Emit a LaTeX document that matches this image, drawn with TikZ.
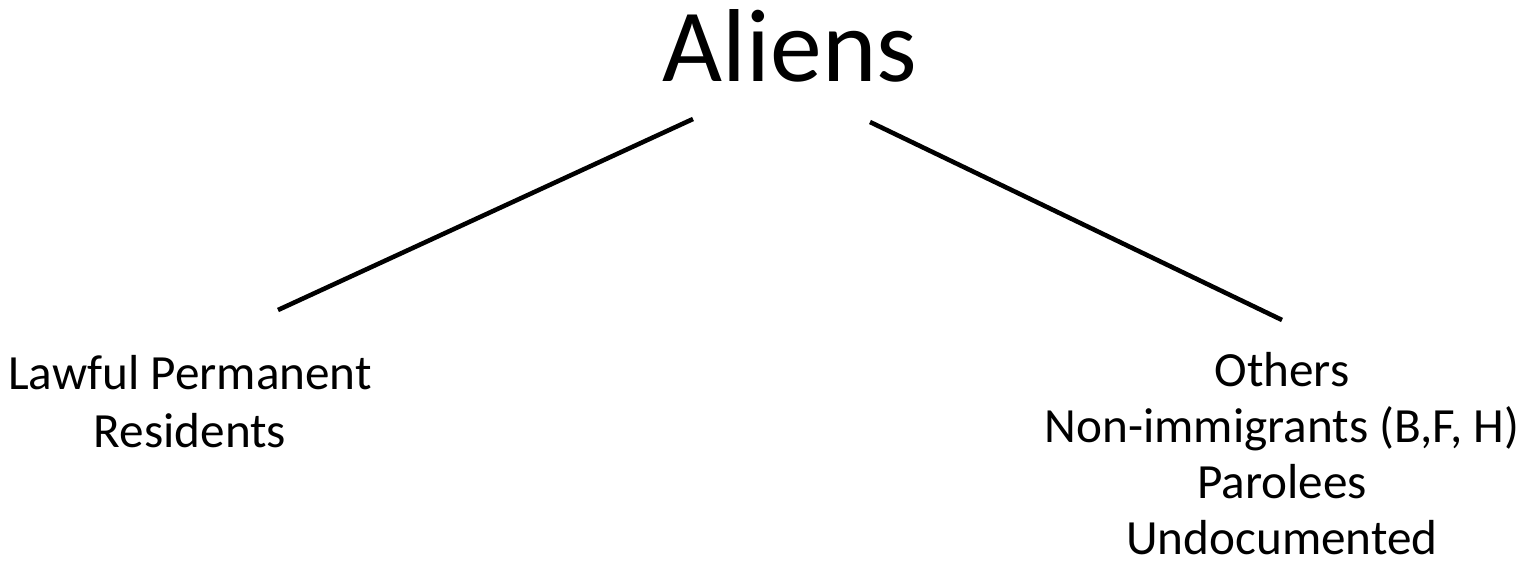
\documentclass[tikz,border=0pt]{standalone}
\usepackage{fontspec}
\setmainfont{Carlito}
\usetikzlibrary{positioning}

\begin{document}
\begin{tikzpicture}[
x=0.02cm, y=-0.02cm,
titlenode/.style={inner sep=0pt, anchor=base, font=\fontsize{59}{71}\selectfont},
groupnode/.style={inner sep=0pt, anchor=base, align=center, font=\fontsize{28}{32.8}\selectfont},
branch/.style={line width=2.6pt, black},
]
\useasboundingbox (0,0) rectangle (1524,564);

\node[titlenode]        (Aliens)                 at (790,82)   {Aliens};
\node[groupnode]        (Residents)              at (190,447)  {Lawful Permanent\\Residents};
\node[groupnode, font=\fontsize{28}{31.8}\selectfont] (Others) at (1282,554) {Others\\Non-immigrants (B,F, H)\\Parolees\\Undocumented};

\coordinate (AliensL) at (693,119);
\coordinate (AliensR) at (870,122);
\coordinate (ResidentsTop) at (278,310);
\coordinate (OthersTop) at (1282,320);

\draw[branch] (AliensL) -- (ResidentsTop);
\draw[branch] (AliensR) -- (OthersTop);

\end{tikzpicture}
\end{document}
